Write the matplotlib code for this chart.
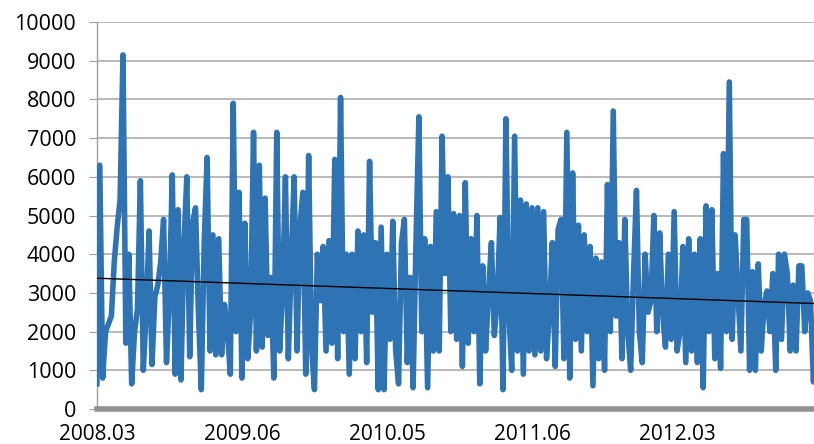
import numpy as np
import matplotlib.pyplot as plt

# nilai pengamatan berurutan
nilai = [650, 6300, 800, 2000, 2200, 2400, 3800, 4700, 5400, 9150,
         1700, 4000, 650, 2000, 2600, 5900, 1000, 2500, 4600, 1150,
         2900, 3200, 3800, 4900, 1200, 3000, 6050, 900, 5150, 750,
         4200, 6000, 1350, 4800, 5200, 2500, 500, 4300, 6500, 1500,
         4500, 1400, 4400, 1400, 2700, 2000, 900, 7900, 2000, 5600,
         800, 4800, 1300, 2500, 7150, 1500, 6300, 1600, 5450, 1900,
         3400, 800, 7150, 1500, 3000, 6000, 1300, 3800, 6000, 1500,
         4700, 5600, 900, 6550, 1600, 500, 4000, 2800, 4200, 1500,
         4350, 1700, 6450, 1300, 8050, 2000, 4000, 900, 4000, 1300,
         4600, 2000, 4500, 1200, 6400, 2500, 4300, 500, 4700, 500,
         4000, 1800, 4850, 1500, 650, 4300, 4900, 1200, 3400, 550,
         4300, 7550, 2000, 4400, 550, 4200, 1500, 5100, 1500, 7050,
         3500, 6000, 2000, 5050, 1800, 5000, 1100, 5850, 1700, 4400,
         2000, 5000, 650, 3700, 1500, 3000, 4300, 1900, 2800, 4950,
         500, 7500, 2500, 1000, 7050, 1500, 5400, 900, 5300, 1500,
         5200, 1400, 5200, 1500, 5100, 1300, 2500, 4300, 1100, 4650,
         4900, 1300, 7150, 800, 6100, 1800, 4750, 1500, 4500, 2000,
         4200, 600, 3900, 1300, 3800, 1000, 5800, 2000, 7700, 2400,
         4300, 1300, 4900, 2000, 1000, 3500, 5650, 2000, 1200, 4000,
         2500, 2800, 5000, 2000, 4550, 2500, 1600, 4000, 1800, 5100,
         1500, 2000, 4200, 1200, 4400, 1500, 4000, 1200, 4400, 550,
         5250, 2000, 5150, 1300, 3500, 1050, 6600, 2000, 8450, 1800,
         4500, 3000, 1500, 4900, 4900, 1000, 3550, 1000, 3750, 1500,
         2700, 3050, 2000, 3500, 1000, 4000, 1800, 4000, 3500, 1500,
         3200, 1500, 3700, 3700, 2000, 3000, 2800, 700, 2000]

# garis tren linier (nilai awal dan akhir)
tren = [3380, 2725]

label_x = ['2008.03', '2009.06', '2010.05', '2011.06', '2012.03']
posisi_label = [0, 50, 100, 150, 200]

x = np.arange(len(nilai))
y = np.array(nilai)

plt.rcParams['font.family'] = ['Open Sans', 'DejaVu Sans']

fig = plt.figure(figsize=(8.14, 4.44), dpi=100)
ax = fig.add_axes([0.119, 0.0788, 0.881, 0.8716])

ax.plot(x, y, color='#2e74b5', lw=4.0, solid_joinstyle='round', zorder=3)
ax.plot([x[0], x[-1]], tren, color='black', lw=1.0, zorder=4)

ax.set_xlim(0, 247.2)
ax.set_ylim(0, 10000)
ax.set_yticks(np.arange(0, 10001, 1000))
ax.set_xticks(posisi_label)
ax.set_xticklabels(label_x)

ax.grid(axis='y', color='#a6a6a6', lw=1.1)
ax.set_axisbelow(True)

for s in ['top', 'right']:
    ax.spines[s].set_visible(False)
ax.spines['left'].set_color('#a0a0a0')
ax.spines['left'].set_linewidth(1.0)
ax.spines['bottom'].set_color('#8e9296')
ax.spines['bottom'].set_linewidth(4.0)

ax.tick_params(axis='y', length=6, color='#a0a0a0', labelsize=15.5, pad=9)
ax.tick_params(axis='x', length=0, labelsize=15, pad=10.5)

fig.savefig('out.png', dpi=100)
